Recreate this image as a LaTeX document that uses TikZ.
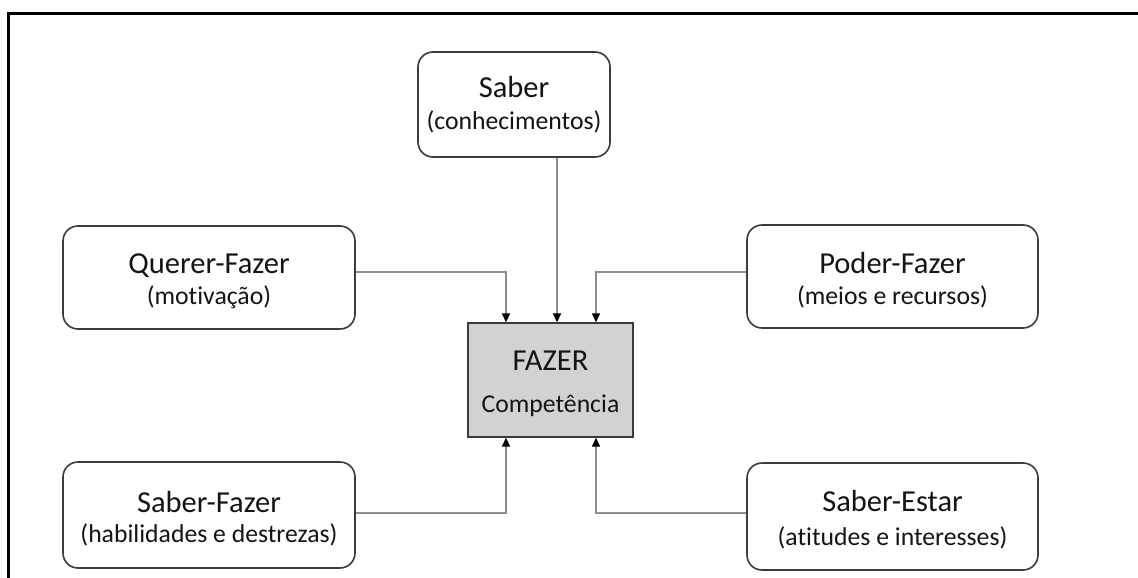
\documentclass[tikz,border=0pt]{standalone}
\usepackage{fontspec}
\setmainfont{Carlito}[Ligatures=CommonOff]
\usetikzlibrary{arrows.meta}
\definecolor{inkline}{HTML}{3C3C3C}
\definecolor{inktext}{HTML}{141414}
\definecolor{connline}{HTML}{8C8C8C}
\definecolor{corefill}{HTML}{D2D2D2}
\tikzset{
  box/.style={draw=inkline, line width=1.6pt, rounded corners=15pt,
    inner sep=0pt, fill=white},
  corebox/.style={draw=inkline, line width=1.3pt, fill=corefill,
    inner sep=0pt},
  title/.style={anchor=base, text=inktext, inner sep=0pt,
    font=\fontsize{30.5}{34}\selectfont},
  subtitle/.style={anchor=base, text=inktext, inner sep=0pt,
    font=\fontsize{25.7}{30}\selectfont},
  conn/.style={draw=connline, line width=1.6pt,
    -{Triangle[length=9pt,width=8pt,color=black]}},
  frame/.style={draw=black, line width=3.5pt}
}
\begin{document}
\begin{tikzpicture}[x=1pt,y=-1pt]
\useasboundingbox (0,0) rectangle (1138,578);
\clip (0,0) rectangle (1138,578);
\fill[white] (0,0) rectangle (1138,578);

% outer frame, running past the right and bottom edges
\draw[frame] (8.5,13.5) rectangle (1160,600);

% the six boxes
\node[box, minimum width=192pt, minimum height=105pt] (saber) at (514,104.5) {};
\node[box, minimum width=292pt, minimum height=103pt] (querer) at (209,277.5) {};
\node[box, minimum width=291pt, minimum height=103pt] (poder) at (892.5,276.5) {};
\node[box, minimum width=292pt, minimum height=106pt] (sfazer) at (209,515) {};
\node[box, minimum width=291pt, minimum height=107pt] (sestar) at (892.5,516.5) {};
\node[corebox, minimum width=165pt, minimum height=114pt] (fazer) at (550.5,380) {};

% labels
\node[title] (saberT) at ([yshift=7pt]saber.center) {Saber};
\node[subtitle] (saberS) at ([yshift=-25pt]saber.center) {(conhecimentos)};
\node[title] (quererT) at ([yshift=4pt]querer.center) {Querer-Fazer};
\node[subtitle] (quererS) at ([yshift=-27pt]querer.center) {(motivação)};
\node[title] (poderT) at ([yshift=3pt]poder.center) {Poder-Fazer};
\node[subtitle] (poderS) at ([yshift=-28pt]poder.center) {(meios e recursos)};
\node[title] (sfazerT) at ([yshift=3pt]sfazer.center) {Saber-Fazer};
\node[subtitle] (sfazerS) at ([yshift=-27pt]sfazer.center) {(habilidades e destrezas)};
\node[title] (sestarT) at ([yshift=5pt]sestar.center) {Saber-Estar};
\node[subtitle] (sestarS) at ([yshift=-29pt]sestar.center) {(atitudes e interesses)};
\node[title] (fazerT) at ([yshift=10pt]fazer.center) {FAZER};
\node[subtitle] (fazerS) at ([yshift=-32pt]fazer.center) {Competência};

% arrival points on the central box
\coordinate (inA) at ([xshift=-44.5pt]fazer.north);
\coordinate (inB) at ([xshift=6.5pt]fazer.north);
\coordinate (inC) at ([xshift=45.5pt]fazer.north);
\coordinate (inD) at ([xshift=-44.5pt]fazer.south);
\coordinate (inE) at ([xshift=45.5pt]fazer.south);

% connectors
\draw[conn] (saber.south -| inB) -- (inB);
\draw[conn] ([yshift=5.5pt]querer.east) -| (inA);
\draw[conn] ([yshift=4.5pt]poder.west) -| (inC);
\draw[conn] ([yshift=2pt]sfazer.east) -| (inD);
\draw[conn] ([yshift=3.5pt]sestar.west) -| (inE);
\end{tikzpicture}
\end{document}
